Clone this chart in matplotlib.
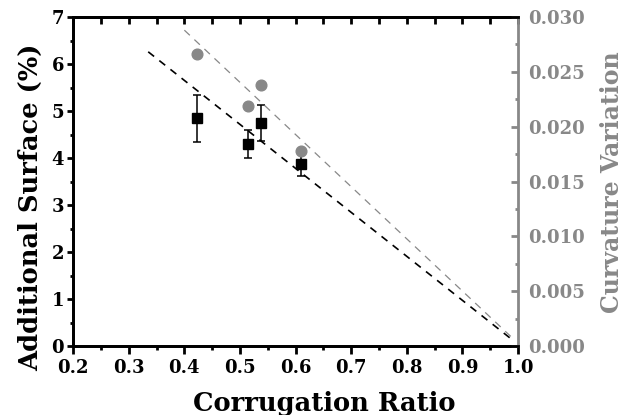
import matplotlib
matplotlib.use("Agg")
import matplotlib.pyplot as plt
from matplotlib.ticker import MultipleLocator, NullFormatter

# Data
ratio_sq = [0.423, 0.515, 0.538, 0.610]
surface = [4.85, 4.30, 4.75, 3.87]
surface_err = [0.50, 0.30, 0.38, 0.25]

ratio_circ = [0.423, 0.515, 0.538, 0.610]
curvature = [0.02666, 0.02186, 0.0238, 0.0178]

fit_black_x = [0.335, 0.988]
fit_black_y = [6.26, 0.15]
fit_gray_x = [0.40, 0.995]
fit_gray_y = [0.0288, 0.0005]

x_ticks = [0.2, 0.3, 0.4, 0.5, 0.6, 0.7, 0.8, 0.9, 1.0]
x_ticklabels = ['0.2', '0.3', '0.4', '0.5', '0.6', '0.7', '0.8', '0.9', '1.0']
y2_ticks = [0, 0.005, 0.01, 0.015, 0.02, 0.025, 0.03]
y2_ticklabels = ['0.000', '0.005', '0.010', '0.015', '0.020', '0.025', '0.030']

gray = "#888888"
plt.rcParams['font.family'] = ['DejaVu Serif']
plt.rcParams['font.weight'] = 'bold'

fig = plt.figure(figsize=(6.36, 4.15), dpi=100)
ax = fig.add_axes([0.115, 0.166, 0.6995, 0.793])
ax2 = ax.twinx()

ax.plot(fit_black_x, fit_black_y, linestyle=(0, (4.5, 4)), color='black', lw=1.2)
ax.errorbar(ratio_sq, surface, yerr=surface_err, fmt='s', color='black',
            ms=7, capsize=3, elinewidth=1.1, capthick=1.1, zorder=3)
ax2.plot(fit_gray_x, fit_gray_y, linestyle=(0, (6, 5)), color=gray, lw=0.9)
ax2.plot(ratio_circ, curvature, 'o', color=gray, ms=7.7, zorder=3)

ax.set_xlim(0.2, 1.0)
ax.set_ylim(0, 7)
ax2.set_ylim(0, 0.03)

ax.set_xticks(x_ticks)
ax.set_xticklabels(x_ticklabels)
ax.xaxis.set_minor_locator(MultipleLocator(0.05))
ax.yaxis.set_major_locator(MultipleLocator(1))
ax.yaxis.set_minor_locator(MultipleLocator(0.5))
ax2.set_yticks(y2_ticks)
ax2.set_yticklabels(y2_ticklabels)
ax2.yaxis.set_minor_locator(MultipleLocator(0.0025))

for sp in ['left', 'bottom', 'top']:
    ax.spines[sp].set_linewidth(2.0)
    ax2.spines[sp].set_linewidth(2.0)
ax.spines['right'].set_visible(False)
ax2.spines['right'].set_color(gray)
ax2.spines['right'].set_linewidth(2.0)

ax.tick_params(axis='x', which='major', direction='out', length=6, width=2,
               labelsize=13, pad=3, top=False)
ax.tick_params(axis='x', which='minor', direction='out', length=3, width=2, top=False)
ax.tick_params(axis='y', which='major', direction='out', length=4.5, width=2,
               labelsize=13, pad=2)
ax.tick_params(axis='y', which='minor', direction='out', length=2.5, width=2)
ax2.tick_params(axis='y', which='major', direction='in', length=5, width=2,
                colors=gray, labelsize=13, pad=7)
ax2.tick_params(axis='y', which='minor', direction='in', length=2.5, width=2, colors=gray)

top = ax.secondary_xaxis('top')
top.set_xticks(x_ticks)
top.xaxis.set_minor_locator(MultipleLocator(0.05))
top.xaxis.set_major_formatter(NullFormatter())
top.tick_params(which='major', direction='in', length=5, width=2)
top.tick_params(which='minor', direction='in', length=5, width=2)
top.spines['top'].set_linewidth(2.0)

ax.set_xlabel('Corrugation Ratio', fontsize=18.5, fontweight='bold')
ax.set_ylabel('Additional Surface (%)', fontsize=18.5, fontweight='bold')
ax2.set_ylabel('Curvature Variation', fontsize=17, fontweight='bold', color=gray)
ax.xaxis.label.set_va('center')
ax.yaxis.label.set_va('center')
ax2.yaxis.label.set_va('center')
ax.xaxis.set_label_coords(0.564, -0.173)
ax.yaxis.set_label_coords(-0.0966, 0.4225)
ax2.yaxis.set_label_coords(1.211, 0.498)

for lab in ax.get_xticklabels() + ax.get_yticklabels() + ax2.get_yticklabels():
    lab.set_fontweight('bold')

fig.savefig('out.png', dpi=100)
